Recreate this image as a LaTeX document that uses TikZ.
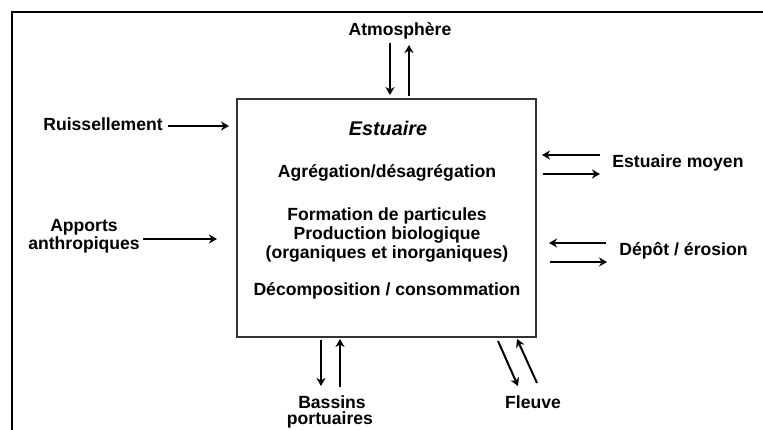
\documentclass[tikz,border=0pt]{standalone}
\usepackage{fontspec}
\setmainfont{Liberation Sans}
\usetikzlibrary{arrows.meta}
\begin{document}
\begin{tikzpicture}[x=1pt,y=-1pt,
  lbl/.style={font=\fontsize{17.6}{19}\selectfont\bfseries, inner sep=0pt, anchor=base},
  flow/.style={line width=2pt, -{Stealth[length=8pt,width=9pt,inset=2.5pt]}},
  frame/.style={line width=2.5pt},
  boxst/.style={draw=black!80, line width=1.4pt, minimum width=299pt, minimum height=238pt, inner sep=0pt}]
\useasboundingbox (0,0) rectangle (763,430);
% outer frame
\coordinate (fA) at (10.75,12);
\coordinate (fB) at (763,12);
\coordinate (fC) at (12,10.75);
\coordinate (fD) at (12,430);
\draw[frame] (fA) -- (fB);
\draw[frame] (fC) -- (fD);
% main box
\node[boxst] (box) at (386.5,218) {};
% labels
\node[lbl] (atm) at (400,36) {Atmosphère};
\node[lbl] (ruis) at (103,131) {Ruissellement};
\node[lbl, font=\fontsize{19.8}{22}\selectfont\bfseries\itshape] (est) at (388,136) {Estuaire};
\node[lbl] (agr) at (387,178) {Agrégation/désagrégation};
\node[lbl] (form) at (387,221) {Formation de particules};
\node[lbl] (prod) at (387,240) {Production biologique};
\node[lbl] (org) at (387,259) {(organiques et inorganiques)};
\node[lbl] (dec) at (387,296) {Décomposition / consommation};
\node[lbl] (app1) at (84,232) {Apports};
\node[lbl] (app2) at (84,250) {anthropiques};
\node[lbl] (em) at (678,168) {Estuaire moyen};
\node[lbl] (dep) at (683.5,256) {Dépôt / érosion};
\node[lbl] (bas1) at (332,408) {Bassins};
\node[lbl] (bas2) at (330,424) {portuaires};
\node[lbl] (fl) at (533,408) {Fleuve};
% arrow end points
\coordinate (a1s) at (390,43);  \coordinate (a1e) at (390,95);
\coordinate (a2s) at (409,96);  \coordinate (a2e) at (409,45);
\coordinate (r1s) at (168,126); \coordinate (r1e) at (229,126);
\coordinate (p1s) at (143,239); \coordinate (p1e) at (217,239);
\coordinate (m1s) at (600,155); \coordinate (m1e) at (542,155);
\coordinate (m2s) at (543,174); \coordinate (m2e) at (600,174);
\coordinate (d1s) at (606,243); \coordinate (d1e) at (549,243);
\coordinate (d2s) at (550,262); \coordinate (d2e) at (607,262);
\coordinate (b1s) at (321,340); \coordinate (b1e) at (321,386);
\coordinate (b2s) at (340,387); \coordinate (b2e) at (340,339);
\coordinate (v1s) at (498,341); \coordinate (v1e) at (518,386);
\coordinate (v2s) at (537,383); \coordinate (v2e) at (517,339);
% arrows
\draw[flow] (a1s) -- (a1e);
\draw[flow] (a2s) -- (a2e);
\draw[flow] (r1s) -- (r1e);
\draw[flow] (p1s) -- (p1e);
\draw[flow] (m1s) -- (m1e);
\draw[flow] (m2s) -- (m2e);
\draw[flow] (d1s) -- (d1e);
\draw[flow] (d2s) -- (d2e);
\draw[flow] (b1s) -- (b1e);
\draw[flow] (b2s) -- (b2e);
\draw[flow] (v1s) -- (v1e);
\draw[flow] (v2s) -- (v2e);
\end{tikzpicture}
\end{document}
